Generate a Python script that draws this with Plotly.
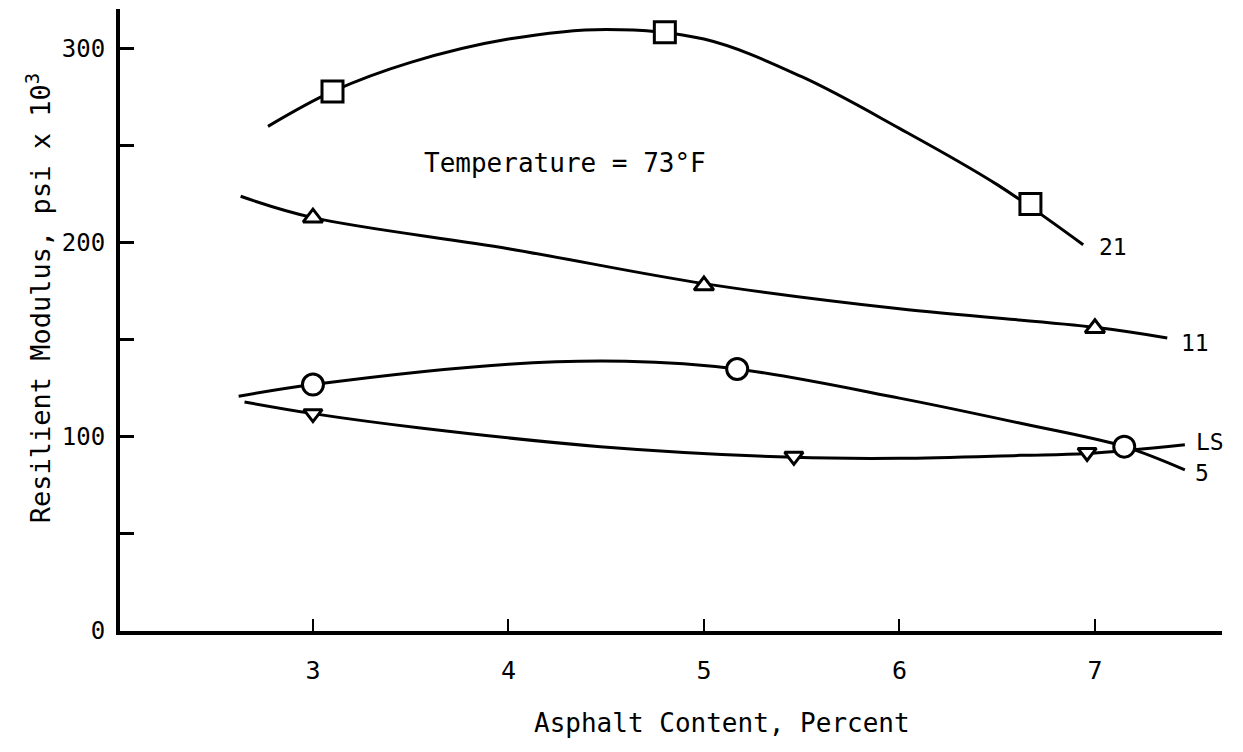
import plotly.graph_objects as go

# ---- data ----
# measured points (asphalt content %, resilient modulus psi x 10^3)
x_21 = [3.1, 4.8, 6.67]
y_21 = [278, 308.5, 220]
x_11 = [3.0, 5.0, 7.0]
y_11 = [213, 178, 156]
x_5 = [3.0, 5.17, 7.15]
y_5 = [127, 135, 95]
x_ls = [3.0, 5.46, 6.96]
y_ls = [112, 90, 92]

# hand-drawn smooth curves
cx_21 = [2.77, 3.1, 3.5, 4.0, 4.5, 5.0, 5.5, 6.0, 6.5, 6.94]
cy_21 = [260, 278, 293, 305, 310, 305, 285.6, 259, 230, 199]
cx_11 = [2.63, 3.0, 4.0, 5.0, 6.0, 7.0, 7.37]
cy_11 = [224, 213, 197, 179, 166, 156.5, 151]
cx_5 = [2.62, 3.0, 4.0, 4.6, 5.17, 6.0, 6.62, 7.15, 7.46]
cy_5 = [121, 127, 137.5, 139, 135, 120, 107, 95, 83]
cx_ls = [2.65, 3.0, 3.55, 4.47, 5.46, 6.0, 6.62, 6.96, 7.46]
cy_ls = [118, 112, 104.6, 95, 89.5, 89, 90.5, 91.5, 96]

curve_labels = ["21", "11", "LS", "5"]
label_x = [7.09, 7.51, 7.59, 7.55]
label_y = [198, 148.5, 97.4, 81.4]

x_ticks = [3, 4, 5, 6, 7]
y_ticks = [0, 100, 200, 300]

FONT = "DejaVu Sans Mono"
fig = go.Figure()

curves = [(cx_21, cy_21), (cx_11, cy_11), (cx_5, cy_5), (cx_ls, cy_ls)]
for cx, cy in curves:
    fig.add_trace(go.Scatter(x=cx, y=cy, mode="lines",
                             line=dict(color="black", width=3, shape="spline", smoothing=1.0),
                             hoverinfo="skip"))

marks = [
    (x_21, y_21, "square", 21),
    (x_11, y_11, "triangle-up", 17),
    (x_5, y_5, "circle", 21),
    (x_ls, y_ls, "triangle-down", 16),
]
for mx, my, sym, sz in marks:
    fig.add_trace(go.Scatter(x=mx, y=my, mode="markers",
                             marker=dict(symbol=sym, size=sz, color="white",
                                         line=dict(color="black", width=3))))

for t, lx, ly in zip(curve_labels, label_x, label_y):
    fig.add_annotation(x=lx, y=ly, text=t, showarrow=False, xanchor="center", yanchor="middle",
                       font=dict(family=FONT, size=23, color="black"))

fig.add_annotation(x=4.29, y=241, text="Temperature = 73°F", showarrow=False,
                   xanchor="center", yanchor="middle",
                   font=dict(family=FONT, size=26, color="black"))

# axis titles (placed as in the reference)
fig.add_annotation(xref="paper", yref="paper", x=0.546, y=0, yshift=-92,
                   text="Asphalt Content, Percent", showarrow=False,
                   xanchor="center", yanchor="middle",
                   font=dict(family=FONT, size=26, color="black"))
fig.add_annotation(xref="paper", yref="paper", x=0, xshift=-82, y=0.535,
                   text="Resilient Modulus, psi x 10<sup>3</sup>", showarrow=False,
                   textangle=-90, xanchor="center", yanchor="middle",
                   font=dict(family=FONT, size=27, color="black"))

fig.update_layout(
    width=1243, height=752,
    margin=dict(l=120, r=21, t=9, b=121),
    plot_bgcolor="white", paper_bgcolor="white",
    showlegend=False,
    font=dict(family=FONT, color="black"),
    xaxis=dict(range=[2.013, 7.65], tickvals=x_ticks, ticks="inside", ticklen=12, tickwidth=2,
               tickcolor="black", showline=True, linewidth=4, linecolor="black",
               showgrid=False, zeroline=False, tickfont=dict(family=FONT, size=25),
               ticklabelstandoff=14),
    yaxis=dict(range=[0, 320.5], tickvals=y_ticks, ticks="inside",
               ticklen=14, tickwidth=3, tickcolor="black", showline=True, linewidth=4,
               linecolor="black", showgrid=False, zeroline=False,
               minor=dict(dtick=50, ticks="inside", ticklen=14, tickwidth=3, tickcolor="black",
                          showgrid=False),
               tickfont=dict(family=FONT, size=24), ticklabelstandoff=6),
)

fig.write_html("out.html")
